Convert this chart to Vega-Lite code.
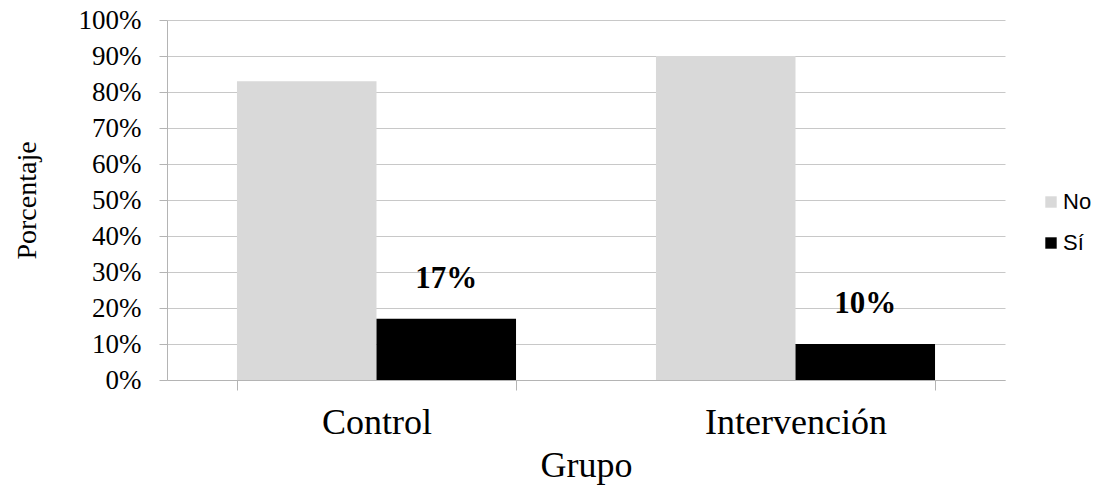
{
  "$schema": "https://vega.github.io/schema/vega-lite/v6.json",
  "width": 838,
  "height": 360,
  "autosize": {"type": "none"},
  "padding": {"left": 167, "top": 20, "right": 94, "bottom": 112},
  "background": "white",
  "data": {"values": [
    {"grupo": "Control", "resp": "No", "pct": 0.83},
    {"grupo": "Control", "resp": "Sí", "pct": 0.17},
    {"grupo": "Intervención", "resp": "No", "pct": 0.90},
    {"grupo": "Intervención", "resp": "Sí", "pct": 0.10}
  ]},
  "config": {
    "view": {"stroke": null},
    "font": "Liberation Serif"
  },
  "encoding": {
    "x": {
      "field": "grupo", "type": "nominal", "sort": ["Control", "Intervención"],
      "scale": {"paddingInner": 0.334, "paddingOuter": 0.167},
      "axis": {
        "title": "Grupo", "labelAngle": 0, "labelFont": "Liberation Serif", "labelFontSize": 36,
        "labelColor": "black", "titleFont": "Liberation Serif", "titleFontSize": 36, "labelLimit": 0,
        "titleFontWeight": "normal", "titleColor": "black", "labelPadding": 15, "titlePadding": 8,
        "tickBand": "extent", "tickSize": 10, "tickColor": "#b4b4b4", "domainColor": "#b4b4b4",
        "grid": false
      }
    },
    "xOffset": {"field": "resp", "type": "nominal", "sort": ["No", "Sí"]},
    "y": {
      "field": "pct", "type": "quantitative", "scale": {"domain": [0, 1]},
      "axis": {
        "title": "Porcentaje", "format": ".0%", "values": [0,0.1,0.2,0.3,0.4,0.5,0.6,0.7,0.8,0.9,1],
        "labelFont": "Liberation Serif", "labelFontSize": 27, "labelColor": "black",
        "titleFont": "Liberation Serif", "titleFontSize": 28, "titleFontWeight": "normal", "titleColor": "black",
        "tickSize": 8, "tickColor": "#b4b4b4", "domainColor": "#b4b4b4", "gridColor": "#c8c8c8",
        "labelPadding": 18, "titlePadding": 37
      }
    }
  },
  "layer": [
    {
      "mark": {"type": "bar"},
      "encoding": {
        "color": {
          "field": "resp", "type": "nominal", "sort": ["No", "Sí"],
          "scale": {"domain": ["No", "Sí"], "range": ["#d9d9d9", "#000000"]},
          "legend": {
            "title": null, "orient": "none", "legendX": 873, "legendY": 171,
            "symbolType": "square", "symbolSize": 130, "symbolStrokeWidth": 0,
            "labelFont": "Liberation Sans", "labelFontSize": 22, "labelColor": "black",
            "rowPadding": 19, "labelOffset": 1
          }
        }
      }
    },
    {
      "transform": [{"filter": "datum.resp === 'Sí'"}],
      "mark": {"type": "text", "font": "Liberation Serif", "fontSize": 31, "fontWeight": "bold", "dy": -40, "color": "black"},
      "encoding": {
        "text": {"field": "pct", "type": "quantitative", "format": ".0%"}
      }
    }
  ]
}
